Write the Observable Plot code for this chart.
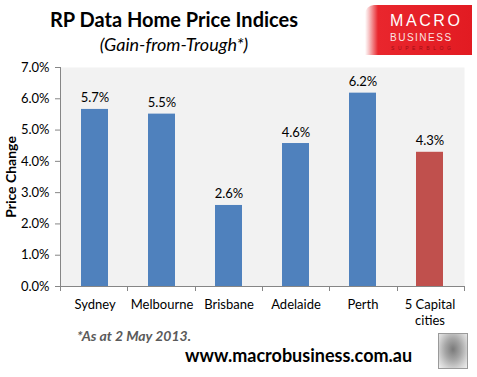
<!DOCTYPE html>
<html>
<head>
<meta charset="utf-8">
<script src="https://cdn.jsdelivr.net/npm/d3@7"></script>
<script src="https://cdn.jsdelivr.net/npm/@observablehq/plot@0.6"></script>
<style>
  html, body { margin: 0; padding: 0; background: #fff; }
  #wrap { position: relative; width: 477px; height: 377px; overflow: hidden; font-family: Lato, "Open Sans", sans-serif; }
  #wrap svg { position: absolute; left: 0; top: 0; }
  .abs { position: absolute; white-space: nowrap; }
  #title { left: 0; width: 348px; top: 7px; text-align: center; font-weight: bold; font-size: 20px; color: #000; }
  #subtitle { left: 0; width: 348px; top: 33px; text-align: center; font-style: italic; font-size: 18px; color: #000; }
  #ylabel { left: 10px; top: 177px; transform: translate(-50%, -50%) rotate(-90deg); font-weight: bold; font-size: 14px; color: #000; }
  #foot { left: 77px; top: 327px; font-weight: bold; font-style: italic; font-size: 14px; color: #5a5a5a; }
  #url { left: 185px; top: 344px; font-weight: bold; font-size: 18px; color: #000; }
  #logo { left: 365px; top: 5px; width: 107px; height: 50px; border-top-left-radius: 9px;
          background: linear-gradient(to right, #ffffff 0px, #f7c4c5 4px, #e9262d 13px, #e21b22 100%); }
  #logo .m { position: absolute; left: 25px; top: 7px; font-size: 16px; letter-spacing: 2.6px; color: #fff; font-family: "Liberation Sans", Arial, sans-serif; }
  #logo .b { position: absolute; left: 25px; top: 27px; font-size: 10px; letter-spacing: 1.5px; color: #fbe3e3; font-family: "Liberation Sans", Arial, sans-serif; }
  #logo .s { position: absolute; left: 26px; top: 40px; font-size: 5px; letter-spacing: 3.6px; color: #9c1015; font-family: "Liberation Sans", Arial, sans-serif; }
  #wolf { left: 438px; top: 333px; width: 28px; height: 34px; border: 1px solid #9a9a9a;
          background: radial-gradient(ellipse at 50% 45%, #7a7a7a 0%, #a5a5a5 40%, #d4d4d4 75%, #f0f0f0 100%); }
</style>
</head>
<body>
<div id="wrap">
  <div id="chart"></div>
  <div class="abs" id="title">RP Data Home Price Indices</div>
  <div class="abs" id="subtitle">(Gain-from-Trough*)</div>
  <div class="abs" id="ylabel">Price Change</div>
  <div class="abs" id="foot">*As at 2 May 2013.</div>
  <div class="abs" id="url">www.macrobusiness.com.au</div>
  <div class="abs" id="logo"><span class="m">MACRO</span><span class="b">BUSINESS</span><span class="s">SUPERBLOG</span></div>
  <div class="abs" id="wolf"></div>
</div>
<script>
// ---- data ----
const cities = ["Sydney", "Melbourne", "Brisbane", "Adelaide", "Perth", "5 Capital cities"];
const gains = [5.66, 5.51, 2.59, 4.57, 6.18, 4.29];
const valueLabels = ["5.7%", "5.5%", "2.6%", "4.6%", "6.2%", "4.3%"];
const xTickLabels = ["Sydney", "Melbourne", "Brisbane", "Adelaide", "Perth", "5 Capital\ncities"];
const yTicks = [0, 1, 2, 3, 4, 5, 6, 7];
const aggregateCategory = "5 Capital cities";

const rows = cities.map((c, i) => ({city: c, gain: gains[i], label: valueLabels[i], tick: xTickLabels[i]}));

const BLUE = "#4F81BD", RED = "#C0504D", AXIS = "#868686";

function axesFrame(index, scales, values, dims) {
  const {width, height, marginLeft, marginRight, marginTop, marginBottom} = dims;
  const y0 = height - marginBottom;
  const x1 = width - marginRight;
  const n = cities.length;
  const step = (x1 - marginLeft) / n;
  const g = d3.create("svg:g").attr("stroke", AXIS).attr("stroke-width", 1).attr("fill", "none");
  g.append("line").attr("x1", marginLeft + 0.5).attr("x2", marginLeft + 0.5).attr("y1", marginTop).attr("y2", y0);
  g.append("line").attr("x1", marginLeft).attr("x2", x1).attr("y1", y0 + 0.5).attr("y2", y0 + 0.5);
  for (let i = 0; i <= n; i++) {
    const xx = Math.round(marginLeft + i * step) + 0.5;
    g.append("line").attr("x1", xx).attr("x2", xx).attr("y1", y0).attr("y2", y0 + 5);
  }
  return g.node();
}

const chart = Plot.plot({
  width: 477,
  height: 377,
  marginTop: 67,
  marginBottom: 91,
  marginLeft: 60,
  marginRight: 13,
  style: {fontFamily: "Lato, 'Open Sans', sans-serif", fontSize: "13px", color: "#000", background: "transparent"},
  x: {domain: cities, paddingInner: 0.6, paddingOuter: 0.3, axis: null},
  y: {domain: [0, 7], axis: null},
  marks: [
    Plot.frame({fill: "#F2F2F2", stroke: "none"}),
    Plot.barY(rows, {x: "city", y: "gain", fill: d => d.city === aggregateCategory ? RED : BLUE}),
    Plot.text(rows, {x: "city", y: "gain", text: "label", lineAnchor: "bottom", dy: -7, fontSize: 13, fill: "#000"}),
    Plot.text(rows, {x: "city", text: "tick", frameAnchor: "bottom", lineAnchor: "top", dy: 10, lineHeight: 1.3, fontSize: 13, fill: "#000"}),
    Plot.axisY({ticks: yTicks, tickFormat: d => d.toFixed(1) + "%", tickSize: 5, tickPadding: 6, stroke: AXIS, fill: "#000", label: null, fontSize: 13}),
    axesFrame
  ]
});
document.getElementById("chart").appendChild(chart);
</script>
</body>
</html>
